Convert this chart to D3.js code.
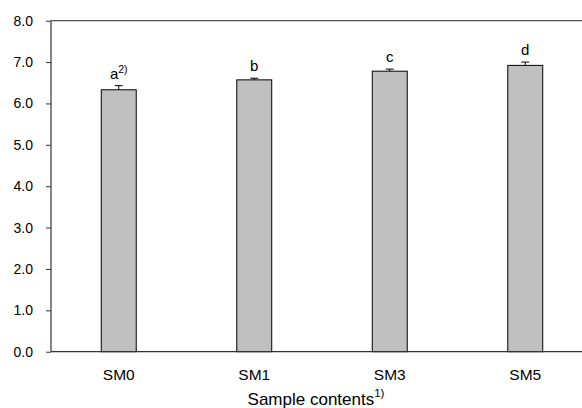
<!DOCTYPE html>
<html><head><meta charset="utf-8">
<script src="https://cdn.jsdelivr.net/npm/d3@7"></script>
<style>body{margin:0;background:#fff}svg{display:block;font-family:"Liberation Sans",Arial,sans-serif}</style>
</head><body>
<svg id="c" width="582" height="408"></svg>
<script>
const categories = ["SM0","SM1","SM3","SM5"];
const values = [6.33, 6.57, 6.78, 6.92];
const errors = [0.10, 0.04, 0.05, 0.08];
const letters = ["a","b","c","d"];
const letterSup = ["2)","","",""];
const yTicks = [0,1,2,3,4,5,6,7,8];
const xTitle = "Sample contents";
const xTitleSup = "1)";

(function(){
const svg = d3.select("#c");
const mL = 51, mR = 593, mT = 20.7, mB = 351.7;
const x = d3.scaleBand().domain(categories).range([mL, mR]).paddingInner(0.742).paddingOuter(0.371);
const y = d3.scaleLinear().domain([0, 8]).range([mB, mT]);

// bars
svg.selectAll("rect.bar").data(categories).join("rect")
  .attr("x", d => x(d)).attr("width", x.bandwidth())
  .attr("y", (d,i) => y(values[i])).attr("height", (d,i) => y(0) - y(values[i]))
  .attr("fill", "#c0c0c0").attr("stroke", "#000").attr("stroke-width", 1);

// error bars
const eb = svg.append("g").attr("stroke", "#000").attr("stroke-width", 1);
categories.forEach((c, i) => {
  const cx = x(c) + x.bandwidth()/2;
  eb.append("line").attr("x1", cx).attr("x2", cx).attr("y1", y(values[i])).attr("y2", y(values[i]+errors[i]));
  eb.append("line").attr("x1", cx-4).attr("x2", cx+4).attr("y1", y(values[i]+errors[i])).attr("y2", y(values[i]+errors[i]));
});

// letters
categories.forEach((c, i) => {
  const cx = x(c) + x.bandwidth()/2;
  const t = svg.append("text").attr("x", cx).attr("y", y(values[i]+errors[i]) - 7)
    .attr("text-anchor", "middle").attr("font-size", 15).attr("fill", "#000");
  t.append("tspan").text(letters[i]);
  if (letterSup[i]) t.append("tspan").attr("dy", -6).attr("font-size", 10.5).text(letterSup[i]);
});

// y axis
const yAxis = svg.append("g").attr("transform", `translate(${mL},0)`)
  .call(d3.axisLeft(y).tickValues(yTicks).tickFormat(d3.format(".1f")).tickSize(5).tickPadding(13));
yAxis.select(".domain").remove();
yAxis.selectAll("line").attr("stroke", "#333");
yAxis.selectAll("text").attr("font-size", 14).attr("fill", "#000").attr("font-family", "Liberation Sans, Arial, sans-serif");

// frame lines
svg.append("line").attr("x1", mL).attr("x2", mL).attr("y1", mT).attr("y2", mB).attr("stroke", "#333").attr("stroke-width", 1.2);
svg.append("line").attr("x1", mL).attr("x2", 582).attr("y1", mT).attr("y2", mT).attr("stroke", "#555").attr("stroke-width", 1.2);
svg.append("line").attr("x1", mL).attr("x2", 582).attr("y1", mB).attr("y2", mB).attr("stroke", "#333").attr("stroke-width", 1.2);

// x labels
const xAxis = svg.append("g").attr("transform", `translate(0,${mB})`)
  .call(d3.axisBottom(x).tickSize(0).tickPadding(17));
xAxis.select(".domain").remove();
xAxis.selectAll("text").attr("font-size", 15.5).attr("fill", "#000").attr("font-family", "Liberation Sans, Arial, sans-serif");

// x title
const tt = svg.append("text").attr("x", 316).attr("y", 405).attr("text-anchor", "middle").attr("font-size", 17).attr("fill", "#000");
tt.append("tspan").text(xTitle);
tt.append("tspan").attr("dy", -8).attr("font-size", 11.5).text(xTitleSup);
})();
</script>
</body></html>
